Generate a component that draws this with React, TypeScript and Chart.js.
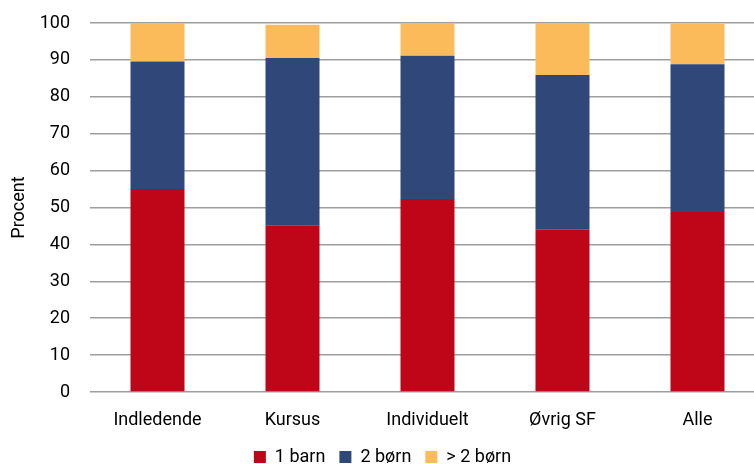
import React, { useEffect, useRef } from "react";
import { Chart, registerables } from "chart.js";

Chart.register(...registerables);

const categories = ["Indledende", "Kursus", "Individuelt", "Øvrig SF", "Alle"];
const seriesNames = ["1 barn", "2 børn", "> 2 børn"];
const oneChild = [55.0, 45.2, 52.3, 44.0, 48.8];
const twoChildren = [34.6, 45.3, 38.8, 41.9, 40.0];
const moreChildren = [10.4, 9.0, 8.9, 14.1, 11.0];
const colors = ["#BE0618", "#2F4879", "#FBBB5A"];
const yTicks = [0, 10, 20, 30, 40, 50, 60, 70, 80, 90, 100];

const FONT = "Roboto, 'Liberation Sans', sans-serif";

export default function App() {
  const ref = useRef<HTMLCanvasElement | null>(null);
  useEffect(() => {
    if (!ref.current) return;
    const chart = new Chart(ref.current, {
      type: "bar",
      data: {
        labels: categories,
        datasets: [oneChild, twoChildren, moreChildren].map((d, i) => ({
          label: seriesNames[i],
          data: d,
          backgroundColor: colors[i],
          borderWidth: 0,
          categoryPercentage: 1,
          barPercentage: 0.4,
        })),
      },
      options: {
        responsive: false,
        animation: false,
        devicePixelRatio: 1,
        layout: { padding: { top: 23, bottom: -12, left: 0, right: 15 } },
        plugins: {
          tooltip: { enabled: false },
          legend: {
            position: "bottom",
            labels: {
              boxWidth: 12,
              boxHeight: 12,
              padding: 14,
              color: "#000",
              font: { family: FONT, size: 18 },
            },
          },
        },
        scales: {
          x: {
            stacked: true,
            grid: { display: false, drawTicks: false },
            border: { display: false },
            ticks: { color: "#000", padding: 18, font: { family: FONT, size: 18 } },
            afterFit: (s: any) => {
              s.height = 42;
            },
          },
          y: {
            stacked: true,
            min: 0,
            max: 100,
            afterBuildTicks: (s: any) => {
              s.ticks = yTicks.map((v) => ({ value: v }));
            },
            grid: { color: "#9E9E9E", lineWidth: 1.6, drawTicks: false },
            border: { display: false },
            ticks: { color: "#000", padding: 20, font: { family: FONT, size: 18 } },
            title: {
              display: true,
              text: "Procent",
              color: "#000",
              padding: { top: 9, bottom: 0 },
              font: { family: FONT, size: 18 },
            },
            afterFit: (s: any) => {
              s.width = 90;
              s.paddingTop = 0;
              s.paddingBottom = 0;
            },
          },
        },
      },
    });
    return () => chart.destroy();
  }, []);
  return (
    <div
      style={{
        position: "fixed",
        left: 0,
        top: 0,
        width: 754,
        height: 464,
        overflow: "hidden",
        background: "#fff",
      }}
    >
      <canvas ref={ref} width={780} height={464} style={{ display: "block" }} />
    </div>
  );
}
